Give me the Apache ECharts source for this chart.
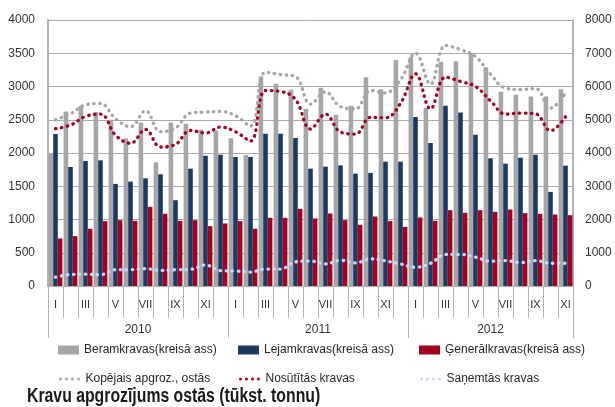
<!DOCTYPE html>
<html>
<head>
<meta charset="utf-8">
<script src="https://cdn.jsdelivr.net/npm/echarts@6/dist/echarts.min.js"></script>
<style>
  html, body { margin: 0; padding: 0; background: #fff; }
  #chart { width: 615px; height: 407px; }
</style>
</head>
<body>
<div id="chart"></div>
<script>
// 月份和年份
const monthLabels = ['I', 'II', 'III', 'IV', 'V', 'VI', 'VII', 'VIII', 'IX', 'X', 'XI', 'XII']
const years = ['2010', '2011', '2012']
const monthsInYear = [12, 12, 11]

// 柱状数据（左轴）
const beramkravas = [1985, 2625, 2710, 2615, 2500, 2220, 2460, 1860, 2460, 2440, 2350, 2340,
  2220, 1970, 3150, 3040, 2950, 2660, 2980, 2575, 2710, 3140, 2960, 3400,
  3440, 2675, 3370, 3380, 3500, 3290, 2920, 2875, 2850, 2850, 2960]
const lejamkravas = [2285, 1790, 1880, 1890, 1535, 1570, 1620, 1680, 1290, 1765, 1960, 1975,
  1940, 1940, 2290, 2290, 2225, 1765, 1795, 1815, 1690, 1700, 1870, 1870,
  2540, 2150, 2710, 2610, 2275, 1920, 1840, 1930, 1975, 1415, 1810]
const generalkravas = [715, 750, 860, 975, 990, 980, 1190, 1085, 980, 990, 900, 940,
  975, 860, 1025, 1025, 1160, 1015, 1090, 990, 920, 1045, 975, 890,
  1030, 980, 1140, 1100, 1140, 1115, 1150, 1095, 1085, 1075, 1065]

// 折线数据（右轴）
const kopejais = [5000, 5180, 5450, 5490, 5030, 4790, 5270, 4640, 4750, 5200, 5230, 5250,
  5120, 4810, 6430, 6360, 6300, 5470, 5840, 5390, 5330, 5880, 5810, 6200,
  7000, 6070, 7230, 7110, 6900, 6370, 5950, 5910, 5940, 5350, 5800]
const nosutitas = [4730, 4840, 5100, 5170, 4540, 4290, 4710, 4180, 4260, 4680, 4600, 4780,
  4640, 4360, 5880, 5850, 5610, 4720, 5170, 4630, 4570, 5070, 5060, 5490,
  6380, 5330, 6280, 6150, 6000, 5570, 5170, 5200, 5180, 4670, 5090]
const sanemtas = [265, 347, 357, 337, 490, 490, 520, 470, 490, 500, 633, 460,
  450, 420, 510, 510, 725, 750, 663, 775, 694, 816, 755, 663,
  561, 684, 949, 949, 867, 745, 765, 704, 765, 684, 684]

const GRAY = '#a6a6a6'
const NAVY = '#1b3a63'
const RED = '#a50021'
const LIGHTBLUE = '#c6d9f1'
const AXIS = '#b3b3b3'
const FONT = '"Liberation Sans", Arial, sans-serif'

// 四个圆点的图例图标
const DOTS_ICON = 'path://M0,1.5a1.5,1.5 0 1,0 3,0a1.5,1.5 0 1,0 -3,0z' +
  'M6,1.5a1.5,1.5 0 1,0 3,0a1.5,1.5 0 1,0 -3,0z' +
  'M12,1.5a1.5,1.5 0 1,0 3,0a1.5,1.5 0 1,0 -3,0z' +
  'M18,1.5a1.5,1.5 0 1,0 3,0a1.5,1.5 0 1,0 -3,0z'

// 类别: 每个月一个
const categories = []
years.forEach((y, yi) => {
  for (let m = 0; m < monthsInYear[yi]; m++) categories.push(y + '-' + m)
})

// 年份分界和中心
const yearBounds = [0]
monthsInYear.forEach(n => yearBounds.push(yearBounds[yearBounds.length - 1] + n))
const yearCenters = years.map((y, i) => (yearBounds[i] + yearBounds[i + 1]) / 2)

const chart = echarts.init(document.getElementById('chart'))

const dotted = color => ({
  color: color,
  width: 3.3,
  type: [0.5, 5.5],
  cap: 'round'
})

const legendItem = (name, left, top, isLine) => ({
  data: [name],
  left: left,
  top: top,
  icon: isLine ? DOTS_ICON : 'rect',
  itemWidth: isLine ? 22 : 21,
  itemHeight: isLine ? 3 : 9,
  padding: 0,
  selectedMode: false,
  textStyle: { fontFamily: FONT, fontSize: 12, color: '#262626' }
})

chart.setOption({
  animation: false,
  graphic: [{
    type: 'text',
    left: 27,
    top: 386,
    scaleX: 0.79,
    style: {
      text: 'Kravu apgrozījums ostās (tūkst. tonnu)',
      font: 'bold 20px "Liberation Sans", Arial, sans-serif',
      fill: '#1a1a1a'
    }
  }],
  legend: [
    legendItem('Beramkravas(kreisā ass)', 58, 344, false),
    legendItem('Lejamkravas(kreisā ass)', 238, 344, false),
    legendItem('Ģenerālkravas(kreisā ass)', 419, 344, false),
    legendItem('Kopējais apgroz., ostās', 59, 373, true),
    legendItem('Nosūtītās kravas', 239, 373, true),
    legendItem('Saņemtās kravas', 420, 373, true)
  ],
  grid: {
    left: 48,
    right: 42,
    top: 20,
    bottom: 121
  },
  xAxis: [
    {
      type: 'category',
      data: categories,
      position: 'bottom',
      axisLine: { lineStyle: { color: AXIS, width: 1 } },
      axisTick: { show: true, interval: 0, length: 32, lineStyle: { color: AXIS } },
      axisLabel: {
        interval: 1,
        margin: 13,
        fontFamily: FONT,
        fontSize: 11,
        color: '#333',
        formatter: v => monthLabels[+v.split('-')[1]]
      }
    },
    {
      type: 'value',
      min: 0,
      max: categories.length,
      position: 'bottom',
      axisLine: { show: false },
      splitLine: { show: false },
      axisTick: {
        show: true,
        customValues: yearBounds,
        length: 52,
        lineStyle: { color: AXIS }
      },
      axisLabel: {
        customValues: yearCenters,
        margin: 38,
        fontFamily: FONT,
        fontSize: 12,
        color: '#333',
        formatter: v => years[yearCenters.indexOf(v)]
      }
    }
  ],
  yAxis: [
    {
      type: 'value',
      min: 0,
      max: 4000,
      interval: 500,
      axisLine: { show: true, lineStyle: { color: AXIS, width: 2 } },
      axisTick: { show: false },
      splitLine: { lineStyle: { color: '#ababab', width: 1 } },
      axisLabel: { margin: 13, fontFamily: FONT, fontSize: 12, color: '#333', formatter: v => String(v) }
    },
    {
      type: 'value',
      min: 0,
      max: 8000,
      interval: 1000,
      axisLine: { show: true, lineStyle: { color: AXIS, width: 2 } },
      axisTick: { show: false },
      splitLine: { show: false },
      axisLabel: { margin: 12, fontFamily: FONT, fontSize: 12, color: '#333', formatter: v => String(v) }
    }
  ],
  series: [
    {
      name: 'Beramkravas(kreisā ass)',
      type: 'bar',
      data: beramkravas,
      barGap: '0%',
      barCategoryGap: '8%',
      itemStyle: { color: GRAY }
    },
    {
      name: 'Lejamkravas(kreisā ass)',
      type: 'bar',
      data: lejamkravas,
      itemStyle: { color: NAVY }
    },
    {
      name: 'Ģenerālkravas(kreisā ass)',
      type: 'bar',
      data: generalkravas,
      itemStyle: { color: RED }
    },
    {
      name: 'Kopējais apgroz., ostās',
      type: 'line',
      yAxisIndex: 1,
      data: kopejais,
      smooth: 0.4,
      symbol: 'none',
      itemStyle: { color: GRAY },
      lineStyle: dotted(GRAY)
    },
    {
      name: 'Nosūtītās kravas',
      type: 'line',
      yAxisIndex: 1,
      data: nosutitas,
      smooth: 0.4,
      symbol: 'none',
      itemStyle: { color: RED },
      lineStyle: dotted(RED)
    },
    {
      name: 'Saņemtās kravas',
      type: 'line',
      yAxisIndex: 1,
      data: sanemtas,
      smooth: 0.4,
      symbol: 'none',
      itemStyle: { color: LIGHTBLUE },
      lineStyle: dotted(LIGHTBLUE)
    }
  ]
})
</script>
</body>
</html>
